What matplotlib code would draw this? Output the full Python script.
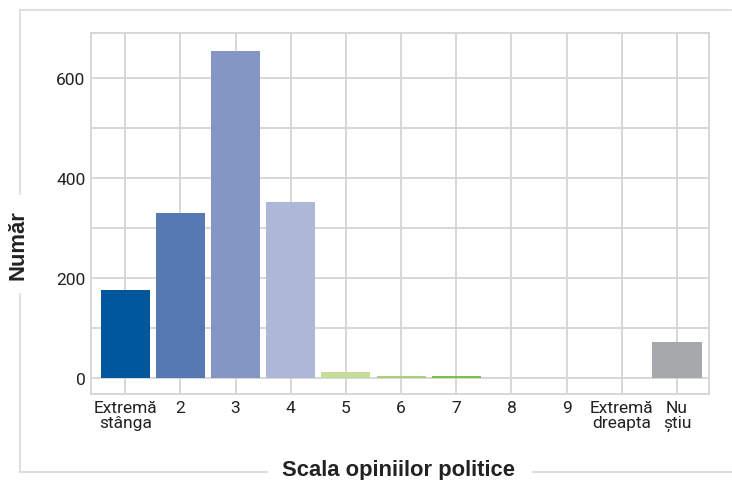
import numpy as np
import matplotlib
matplotlib.use("Agg")
import matplotlib.pyplot as plt
from matplotlib.lines import Line2D

# Date
categorii = ["Extremă\nstânga", "2", "3", "4", "5", "6", "7", "8", "9",
             "Extremă\ndreapta", "Nu\nștiu"]
valori = [176, 330, 655, 352, 12, 4, 4, 0, 0, 0, 72]
culori = ["#00579c", "#5679b2", "#8497c4", "#adb8d9", "#c4de9a", "#a8d27a",
          "#80bf45", "#80bf45", "#80bf45", "#80bf45", "#a7a8ab"]

tick_font = ["Roboto", "DejaVu Sans"]
title_font = ["Liberation Sans", "DejaVu Sans"]
grila = "#d4d4d4"

fig = plt.figure(figsize=(7.32, 4.81), dpi=100)
W, H = 732, 481
ax = fig.add_axes([91 / W, 1 - 395 / H, (709 - 91) / W, (395 - 34) / H])

x = np.arange(len(categorii))
ax.bar(x, valori, width=0.89, color=culori, zorder=3)

ax.set_xlim(-0.62, len(categorii) - 0.42)
ax.set_ylim(-32, 690)
ax.set_xticks(x)
ax.set_xticklabels(categorii, family=tick_font, fontsize=12.5, color="#222222",
                   linespacing=1.0)
ax.set_yticks([0, 200, 400, 600])
ax.set_yticks([100, 300, 500], minor=True)
ax.set_yticklabels(["0", "200", "400", "600"], family=tick_font, fontsize=12.5,
                   color="#222222")
ax.tick_params(axis="both", which="both", length=0, pad=4)
ax.grid(True, which="both", color=grila, linewidth=1.3, zorder=0)
for s in ax.spines.values():
    s.set_color(grila)
    s.set_linewidth(1.3)

# Cadrul exterior cu titlurile axelor
def fx(px):
    return px / W

def fy(py):
    return 1 - py / H

cadru = dict(color="#dcdcdc", linewidth=1.3, transform=fig.transFigure)
fig.add_artist(Line2D([fx(20), fx(731)], [fy(11), fy(11)], **cadru))
fig.add_artist(Line2D([fx(20), fx(20)], [fy(11), fy(195)], **cadru))
fig.add_artist(Line2D([fx(20), fx(20)], [fy(295), fy(473)], **cadru))
fig.add_artist(Line2D([fx(20), fx(267)], [fy(473), fy(473)], **cadru))
fig.add_artist(Line2D([fx(533), fx(732)], [fy(473), fy(473)], **cadru))

fig.text(fx(398), fy(471), "Scala opiniilor politice", ha="center", va="center",
         family=title_font, fontsize=15.8, fontweight="bold", color="#222222")
fig.text(fx(18), fy(245), "Număr", ha="center", va="center", rotation=90,
         family=title_font, fontsize=15.8, fontweight="bold", color="#222222")

fig.savefig("out.png", dpi=100)
